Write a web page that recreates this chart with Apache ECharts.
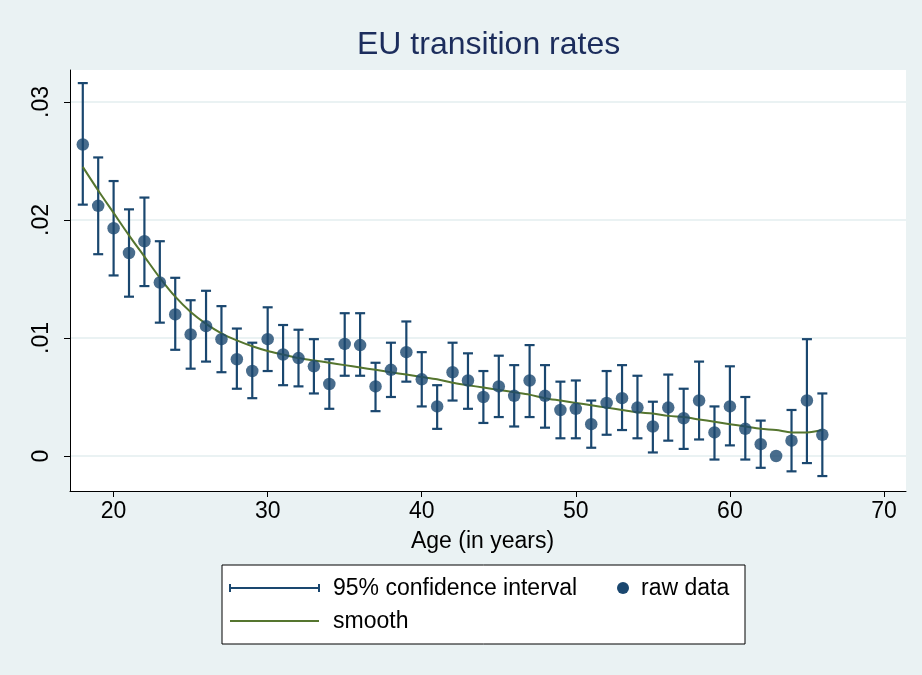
<!DOCTYPE html>
<html>
<head>
<meta charset="utf-8">
<script src="https://cdn.jsdelivr.net/npm/echarts@6/dist/echarts.min.js"></script>
<style>
html,body{margin:0;padding:0;background:#eaf2f3;}
#chart{width:922px;height:675px;}
</style>
</head>
<body>
<div id="chart"></div>
<script>
// Data
const ages = [18,19,20,21,22,23,24,25,26,27,28,29,30,31,32,33,34,35,36,37,38,39,40,41,42,43,44,45,46,47,48,49,50,51,52,53,54,55,56,57,58,59,60,61,62,63,64,65,66];
const rawRate = [0.0264,0.0212,0.0193,0.0172,0.0182,0.0147,0.0120,0.0103,0.0110,0.0099,0.0082,0.0072,0.0099,0.0086,0.0083,0.0076,0.0061,0.0095,0.0094,0.0059,0.0073,0.0088,0.0065,0.0042,0.0071,0.0064,0.0050,0.0059,0.0051,0.0064,0.0051,0.0039,0.0040,0.0027,0.0045,0.0049,0.0041,0.0025,0.0041,0.0032,0.0047,0.0020,0.0042,0.0023,0.0010,0.0000,0.0013,0.0047,0.0018];
const ciLow = [0.0213,0.0171,0.0153,0.0135,0.0144,0.0113,0.0090,0.0074,0.0080,0.0071,0.0057,0.0049,0.0072,0.0060,0.0059,0.0053,0.0040,0.0068,0.0068,0.0038,0.0050,0.0063,0.0042,0.0023,0.0047,0.0040,0.0028,0.0033,0.0025,0.0033,0.0024,0.0015,0.0015,0.0007,0.0018,0.0022,0.0015,0.0003,0.0013,0.0006,0.0014,-0.0003,0.0009,-0.0003,-0.0010,null,-0.0013,-0.0006,-0.0017];
const ciHigh = [0.0316,0.0253,0.0233,0.0209,0.0219,0.0182,0.0151,0.0132,0.0140,0.0127,0.0108,0.0096,0.0126,0.0111,0.0107,0.0099,0.0082,0.0121,0.0121,0.0079,0.0096,0.0114,0.0088,0.0060,0.0096,0.0087,0.0072,0.0085,0.0077,0.0094,0.0077,0.0063,0.0064,0.0047,0.0072,0.0077,0.0068,0.0046,0.0069,0.0057,0.0080,0.0042,0.0076,0.0050,0.0030,null,0.0039,0.0099,0.0053];
const smoothRate = [0.0245,0.0225,0.0206,0.0187,0.0169,0.0151,0.0135,0.0122,0.0112,0.0104,0.0098,0.0093,0.0089,0.0086,0.0083,0.0081,0.0079,0.0077,0.0075,0.0073,0.0071,0.0069,0.0067,0.0065,0.0062,0.0060,0.0058,0.0056,0.0054,0.0052,0.0049,0.0047,0.0045,0.0043,0.0041,0.0039,0.0037,0.0036,0.0034,0.0033,0.0031,0.0029,0.0027,0.0025,0.0023,0.0022,0.0020,0.0020,0.0022];
const xTicks = [20,30,40,50,60,70];
const yTicks = [0,0.01,0.02,0.03];
const yTickLabels = ['0','.01','.02','.03'];
const titleText = 'EU transition rates';
const xTitle = 'Age (in years)';
const legendLabels = ['95% confidence interval','raw data','smooth'];

const NAVY = '#1a476f', GREEN = '#55752f', BG = '#eaf2f3';
const FONT = "'Liberation Sans', Arial, sans-serif";
const FS = 23;

const chart = echarts.init(document.getElementById('chart'), null, {renderer:'canvas'});

const ciData = ages.map((a,i) => [a, ciLow[i], ciHigh[i]]).filter(d => d[1] !== null);

const option = {
  backgroundColor: BG,
  animation: false,
  title: {
    text: titleText, left: 352, top: 24,
    textStyle: {fontFamily: FONT, fontSize: 32, fontWeight: 'normal', color: '#1c2d5c'}
  },
  grid: {left: 70, right: 16, top: 70, bottom: 184, show: true, backgroundColor: '#ffffff', borderWidth: 0},
  xAxis: {
    type: 'value', min: 17.17, max: 71.43,
    name: xTitle, nameLocation: 'middle', nameGap: 39,
    nameTextStyle: {fontFamily: FONT, fontSize: FS, color: '#000', padding: [0, 11, 0, 0]},
    axisLine: {show: true, onZero: false, lineStyle: {color: '#000', width: 1}},
    axisTick: {show: true, length: 6, lineStyle: {color: '#000'}, customValues: xTicks},
    axisLabel: {fontFamily: FONT, fontSize: FS, color: '#000', margin: 9, customValues: xTicks},
    splitLine: {show: false}
  },
  yAxis: {
    type: 'value', min: -0.002966, max: 0.03271,
    axisLine: {show: true, onZero: false, lineStyle: {color: '#000', width: 1}},
    axisTick: {show: true, length: 6, lineStyle: {color: '#000'}, customValues: yTicks},
    axisLabel: {fontFamily: FONT, fontSize: FS, color: '#000', rotate: 90, margin: 17,
      customValues: yTicks,
      formatter: v => { const i = yTicks.findIndex(t => Math.abs(t - v) < 1e-9); return i >= 0 ? yTickLabels[i] : ''; }},
    splitLine: {show: true, lineStyle: {color: BG, width: 2}}
  },
  series: [
    {
      type: 'custom', name: legendLabels[0], data: ciData, z: 2,
      renderItem: (params, api) => {
        const x = api.value(0);
        const lo = api.coord([x, api.value(1)]);
        const hi = api.coord([x, api.value(2)]);
        const hw = 5;
        const style = {stroke: NAVY, lineWidth: 2.2, fill: null};
        return {type: 'group', children: [
          {type: 'line', shape: {x1: lo[0], y1: lo[1], x2: hi[0], y2: hi[1]}, style},
          {type: 'line', shape: {x1: lo[0]-hw, y1: lo[1], x2: lo[0]+hw, y2: lo[1]}, style},
          {type: 'line', shape: {x1: hi[0]-hw, y1: hi[1], x2: hi[0]+hw, y2: hi[1]}, style}
        ]};
      }
    },
    {
      type: 'line', name: legendLabels[2], data: ages.map((a,i) => [a, smoothRate[i]]), z: 3,
      smooth: 0.3, showSymbol: false, symbol: 'none',
      lineStyle: {color: GREEN, width: 2}
    },
    {
      type: 'scatter', name: legendLabels[1], data: ages.map((a,i) => [a, rawRate[i]]), z: 4,
      symbol: 'circle', symbolSize: 12.5, itemStyle: {color: NAVY}
    }
  ],
  graphic: [
    {type: 'rect', shape: {x: 222, y: 565, width: 523, height: 79}, style: {fill: '#fff', stroke: '#000', lineWidth: 1}},
    {type: 'line', shape: {x1: 230, y1: 588, x2: 319, y2: 588}, style: {stroke: NAVY, lineWidth: 2}},
    {type: 'line', shape: {x1: 230, y1: 584, x2: 230, y2: 592}, style: {stroke: NAVY, lineWidth: 2}},
    {type: 'line', shape: {x1: 319, y1: 584, x2: 319, y2: 592}, style: {stroke: NAVY, lineWidth: 2}},
    {type: 'text', x: 333, y: 589, style: {text: legendLabels[0], fontFamily: FONT, fontSize: FS, fill: '#000', textVerticalAlign: 'middle'}},
    {type: 'circle', shape: {cx: 623, cy: 588, r: 6}, style: {fill: NAVY}},
    {type: 'text', x: 641, y: 589, style: {text: legendLabels[1], fontFamily: FONT, fontSize: FS, fill: '#000', textVerticalAlign: 'middle'}},
    {type: 'line', shape: {x1: 230, y1: 621, x2: 319, y2: 621}, style: {stroke: GREEN, lineWidth: 2}},
    {type: 'text', x: 333, y: 622, style: {text: legendLabels[2], fontFamily: FONT, fontSize: FS, fill: '#000', textVerticalAlign: 'middle'}}
  ]
};
chart.setOption(option);
</script>
</body>
</html>
